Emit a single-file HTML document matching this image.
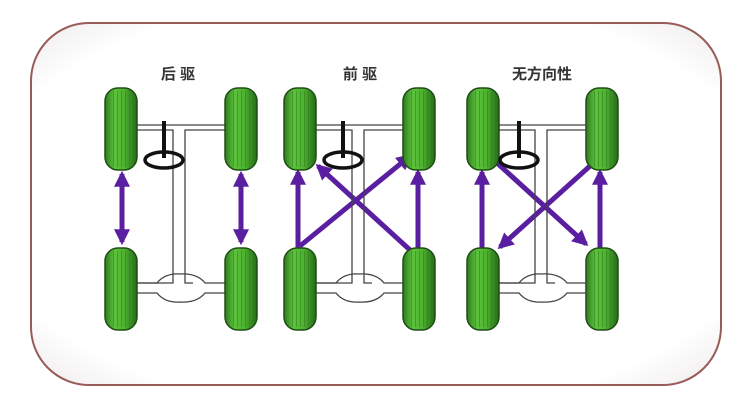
<!DOCTYPE html>
<html><head><meta charset="utf-8"><style>
body{margin:0;background:#fff;width:750px;height:400px;overflow:hidden}
</style></head><body>
<svg width="750" height="400" viewBox="0 0 750 400" xmlns="http://www.w3.org/2000/svg">
<defs>
<linearGradient id="wg" x1="0" x2="1">
<stop offset="0" stop-color="#2f7a1f"/><stop offset="0.3" stop-color="#5cc23c"/><stop offset="0.6" stop-color="#4fb331"/><stop offset="1" stop-color="#256b18"/>
</linearGradient>
<pattern id="st" width="4" height="10" patternUnits="userSpaceOnUse"><rect width="1" height="10" fill="#2a7a1c" opacity="0.5"/></pattern>
<radialGradient id="bg" cx="0.5" cy="0.5" r="0.72"><stop offset="0.8" stop-color="#fff"/><stop offset="1" stop-color="#ece8e8"/></radialGradient>
<marker id="ah" viewBox="0 0 10 10" refX="8" refY="5" markerWidth="3.2" markerHeight="3.2" orient="auto-start-reverse"><path d="M0,0L10,5L0,10z" fill="#5a1ea0"/></marker>
<g id="wheel"><rect x="0" y="0" width="32" height="82" rx="13" fill="url(#wg)" stroke="#1e4f14" stroke-width="1.5"/><rect x="6" y="3" width="20" height="76" fill="url(#st)"/></g>
<g id="chassis" fill="none" stroke="#444" stroke-width="1.3">
<path d="M32,37H120M32,42H68V195H58M32,195H58M120,42H80V195H88"/>
<path d="M32,195H52Q60,185 75,186Q92,185 100,195H120M32,205H52Q60,215 75,214Q92,215 100,205H120" />
</g>
</defs>
<rect x="31" y="23" width="690" height="362" rx="58" fill="url(#bg)" stroke="#9a5a55" stroke-width="2"/>
<g font-family="'Liberation Sans','Noto Sans CJK SC',sans-serif" font-size="15" fill="#333" text-anchor="middle" font-weight="bold">
<text x="178" y="79">后 驱</text><text x="360" y="79">前 驱</text><text x="542" y="79">无方向性</text>
</g>
<g stroke="#5a1ea0" stroke-width="5" fill="none" marker-end="url(#ah)">
<line x1="122" y1="208" x2="122" y2="174"/><line x1="122" y1="208" x2="122" y2="242"/>
<line x1="241" y1="208" x2="241" y2="174"/><line x1="241" y1="208" x2="241" y2="242"/>
<line x1="298" y1="248" x2="298" y2="172"/><line x1="418" y1="248" x2="418" y2="172"/>
<line x1="300" y1="246" x2="410" y2="156"/><line x1="410" y1="250" x2="318" y2="166"/>
<line x1="482" y1="248" x2="482" y2="172"/><line x1="600" y1="248" x2="600" y2="172"/>
<line x1="496" y1="162" x2="586" y2="244"/><line x1="590" y1="166" x2="500" y2="247"/>
</g>
<g transform="translate(105,88)"><use href="#chassis"/><use href="#wheel"/><use href="#wheel" x="120"/><use href="#wheel" y="160"/><use href="#wheel" x="120" y="160"/>
<line x1="59" y1="33" x2="59" y2="70" stroke="#111" stroke-width="4"/><ellipse cx="59" cy="72" rx="19" ry="8" fill="none" stroke="#111" stroke-width="3.5"/></g>
<g transform="translate(284,88)"><use href="#chassis"/><use href="#wheel"/><use href="#wheel" x="119"/><use href="#wheel" y="160"/><use href="#wheel" x="119" y="160"/>
<line x1="59" y1="33" x2="59" y2="70" stroke="#111" stroke-width="4"/><ellipse cx="59" cy="72" rx="19" ry="8" fill="none" stroke="#111" stroke-width="3.5"/></g>
<g transform="translate(467,88)"><use href="#chassis"/><use href="#wheel"/><use href="#wheel" x="119"/><use href="#wheel" y="160"/><use href="#wheel" x="119" y="160"/>
<line x1="52" y1="33" x2="52" y2="70" stroke="#111" stroke-width="4"/><ellipse cx="52" cy="72" rx="19" ry="8" fill="none" stroke="#111" stroke-width="3.5"/></g>
</svg>
</body></html>
